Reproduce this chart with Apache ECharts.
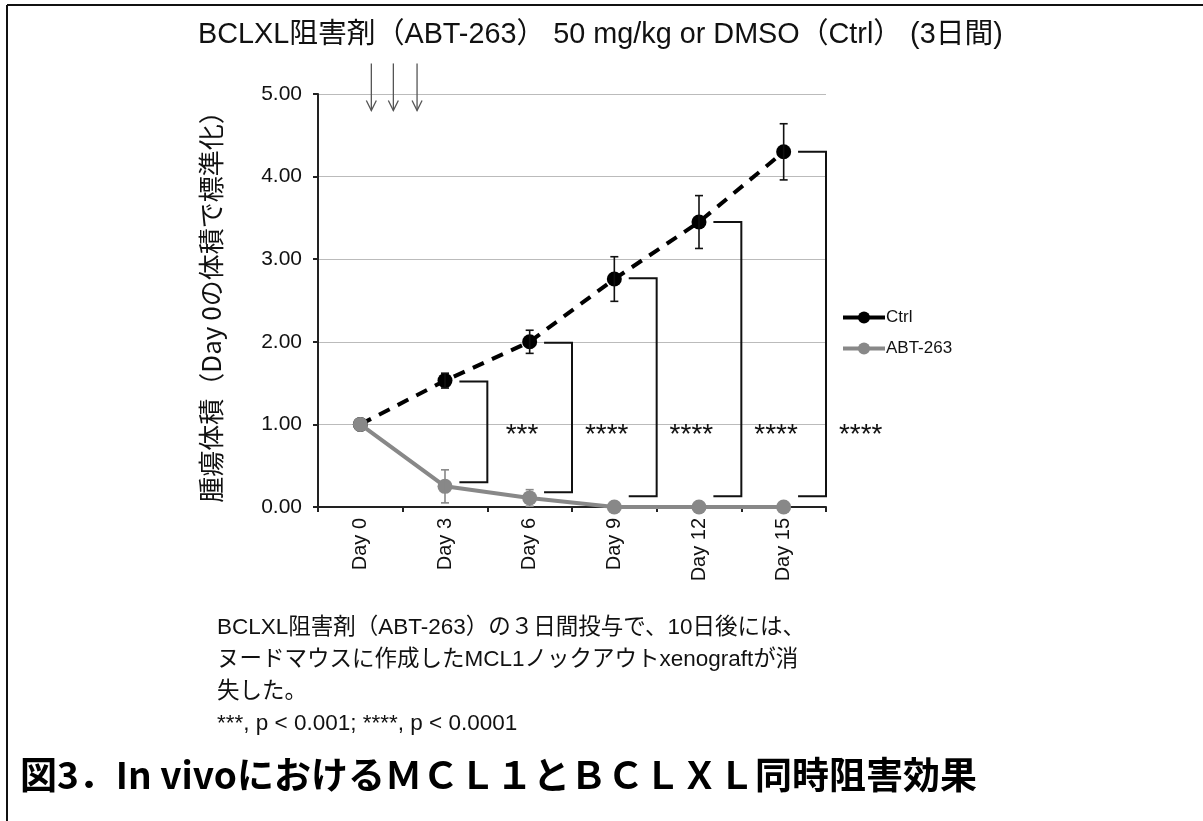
<!DOCTYPE html>
<html>
<head>
<meta charset="utf-8">
<script src="https://cdn.jsdelivr.net/npm/echarts@6/dist/echarts.min.js"></script>
<style>
html,body{margin:0;padding:0;background:#fff;}
#chart{width:1203px;height:821px;}
</style>
</head>
<body>
<div id="chart"></div>
<script>
// ---- data ----
const categories = ['Day 0', 'Day 3', 'Day 6', 'Day 9', 'Day 12', 'Day 15'];
const ctrlValues = [1.00, 1.53, 2.00, 2.76, 3.45, 4.30];
const ctrlErrors = [0, 0.09, 0.14, 0.27, 0.32, 0.34];
const abtValues = [1.00, 0.25, 0.11, 0.00, 0.00, 0.00];
const abtErrors = [0, 0.20, 0.10, 0, 0, 0];
const bracketDays = [1, 2, 3, 4, 5];
const bracketTop = [1.52, 1.99, 2.77, 3.45, 4.30];
const bracketBottom = [0.30, 0.18, 0.13, 0.13, 0.13];
const bracketStars = ['***', '****', '****', '****', '****'];
const starLevel = 0.93;
const doseOffsets = [0.13, 0.39, 0.67];

const FONT = '"Liberation Sans", "Noto Sans CJK JP", sans-serif';
const JFONT = '"Noto Sans CJK JP", "Liberation Sans", sans-serif';

function errData(vals, errs) {
  const out = [];
  vals.forEach((v, i) => { if (errs[i] > 0) out.push([i, v - errs[i], v + errs[i]]); });
  return out;
}

function errRender(color) {
  return function (params, api) {
    const x = api.value(0);
    const lo = api.coord([x, api.value(1)]);
    const hi = api.coord([x, api.value(2)]);
    const c = 4;
    const st = { stroke: color, lineWidth: 1.6 };
    return {
      type: 'group',
      children: [
        { type: 'line', shape: { x1: lo[0], y1: lo[1], x2: hi[0], y2: hi[1] }, style: st },
        { type: 'line', shape: { x1: lo[0] - c, y1: lo[1], x2: lo[0] + c, y2: lo[1] }, style: st },
        { type: 'line', shape: { x1: hi[0] - c, y1: hi[1], x2: hi[0] + c, y2: hi[1] }, style: st }
      ]
    };
  };
}

const bracketData = bracketDays.map((d, i) => [d, bracketTop[i], bracketBottom[i], i]);

const chart = echarts.init(document.getElementById('chart'));
chart.setOption({
  animation: false,
  backgroundColor: '#fff',
  textStyle: { fontFamily: FONT },
  grid: { left: 318, right: 377, top: 94, bottom: 314 },
  legend: {
    orient: 'vertical', left: 836, top: 304, itemWidth: 42, itemHeight: 15, itemGap: 14,
    textStyle: { fontSize: 17, color: '#111', fontFamily: FONT, padding: [0, 0, 0, -4] },
    data: [
      { name: 'Ctrl', lineStyle: { type: 'solid', width: 4 } },
      { name: 'ABT-263', lineStyle: { width: 4 } }
    ]
  },
  xAxis: {
    type: 'category', data: categories, boundaryGap: true,
    axisLine: { lineStyle: { color: '#222', width: 2 } },
    axisTick: { show: true, length: 5, lineStyle: { color: '#222', width: 2 } },
    axisLabel: { rotate: 90, fontSize: 20, color: '#111', margin: 11, fontFamily: FONT },
    splitLine: { show: false }
  },
  yAxis: {
    type: 'value', min: 0, max: 5, interval: 1,
    name: '腫瘍体積（Day 0の体積で標準化）',
    nameLocation: 'middle', nameRotate: 90, nameGap: 94,
    nameTextStyle: { fontSize: 26, color: '#111', fontFamily: JFONT },
    axisLine: { show: true, lineStyle: { color: '#222', width: 2 } },
    axisTick: { show: true, length: 5, lineStyle: { color: '#222', width: 2 } },
    axisLabel: { fontSize: 21, color: '#111', margin: 16, formatter: v => v.toFixed(2), fontFamily: FONT },
    splitLine: { show: true, lineStyle: { color: '#bbb', width: 1 } }
  },
  series: [
    {
      name: 'Ctrl', type: 'line', data: ctrlValues, z: 3,
      symbol: 'circle', symbolSize: 15,
      lineStyle: { color: '#000', width: 4, type: [12, 9] },
      itemStyle: { color: '#000' }
    },
    {
      name: 'ABT-263', type: 'line', data: abtValues, z: 4,
      symbol: 'circle', symbolSize: 15,
      lineStyle: { color: '#888', width: 4 },
      itemStyle: { color: '#888' }
    },
    {
      name: 'ctrlErr', type: 'custom', data: errData(ctrlValues, ctrlErrors), z: 5,
      renderItem: errRender('#111'), silent: true
    },
    {
      name: 'abtErr', type: 'custom', data: errData(abtValues, abtErrors), z: 5,
      renderItem: errRender('#888'), silent: true
    },
    {
      name: 'brackets', type: 'custom', data: bracketData, z: 2, clip: false, silent: true,
      renderItem: function (params, api) {
        const d = api.value(0);
        const w = api.size([1, 0])[0];
        const top = api.coord([d, api.value(1)]);
        const bot = api.coord([d, api.value(2)]);
        const xs = top[0] + w * 0.17;
        const xv = top[0] + w * 0.5;
        const sy = api.coord([d, starLevel])[1];
        return {
          type: 'group',
          children: [
            { type: 'polyline', shape: { points: [[xs, top[1]], [xv, top[1]], [xv, bot[1]], [xs, bot[1]]] },
              style: { stroke: '#111', lineWidth: 2, fill: null } },
            { type: 'text', x: xv + w * 0.41, y: sy + 5,
              style: { text: bracketStars[api.value(3)], fontSize: 28, fill: '#111', align: 'center', verticalAlign: 'middle', fontFamily: FONT } }
          ]
        };
      }
    },
    {
      name: 'dose', type: 'custom', data: doseOffsets.map(v => [0, v]), z: 6, clip: false, silent: true,
      renderItem: function (params, api) {
        const w = api.size([1, 0])[0];
        const base = api.coord([api.value(0), 5])[0];
        const x = base + api.value(1) * w;
        const y1 = api.coord([0, 5.37])[1];
        const y2 = api.coord([0, 4.80])[1];
        const st = { stroke: '#555', lineWidth: 1.3, fill: null };
        return {
          type: 'group',
          children: [
            { type: 'line', shape: { x1: x, y1: y1, x2: x, y2: y2 }, style: st },
            { type: 'polyline', shape: { points: [[x - 5, y2 - 10], [x, y2], [x + 5, y2 - 10]] }, style: st }
          ]
        };
      }
    }
  ],
  graphic: [
    { type: 'line', shape: { x1: 7, y1: 5, x2: 1203, y2: 5 }, style: { stroke: '#111', lineWidth: 2 } },
    { type: 'line', shape: { x1: 7, y1: 5, x2: 7, y2: 821 }, style: { stroke: '#111', lineWidth: 2 } },
    { type: 'text', x: 198, y: 35, style: { text: 'BCLXL阻害剤（ABT-263） 50 mg/kg or DMSO（Ctrl） (3日間)', fontSize: 28.8, fill: '#111', verticalAlign: 'middle', fontFamily: FONT } },
    { type: 'text', x: 217, y: 628, style: { text: 'BCLXL阻害剤（ABT-263）の３日間投与で、10日後には、', fontSize: 22.5, fill: '#111', verticalAlign: 'middle', fontFamily: FONT } },
    { type: 'text', x: 217, y: 660, style: { text: 'ヌードマウスに作成したMCL1ノックアウトxenograftが消', fontSize: 22.5, fill: '#111', verticalAlign: 'middle', fontFamily: FONT } },
    { type: 'text', x: 217, y: 692, style: { text: '失した。', fontSize: 22.5, fill: '#111', verticalAlign: 'middle', fontFamily: FONT } },
    { type: 'text', x: 217, y: 724, style: { text: '***, p < 0.001; ****, p < 0.0001', fontSize: 22.5, fill: '#111', verticalAlign: 'middle', fontFamily: FONT } },
    { type: 'text', x: 20, y: 775, style: { text: '図3．In vivoにおけるＭＣＬ１とＢＣＬＸＬ同時阻害効果', fontSize: 37, fontWeight: 'bold', fill: '#000', verticalAlign: 'middle', fontFamily: JFONT } }
  ]
});
</script>
</body>
</html>
